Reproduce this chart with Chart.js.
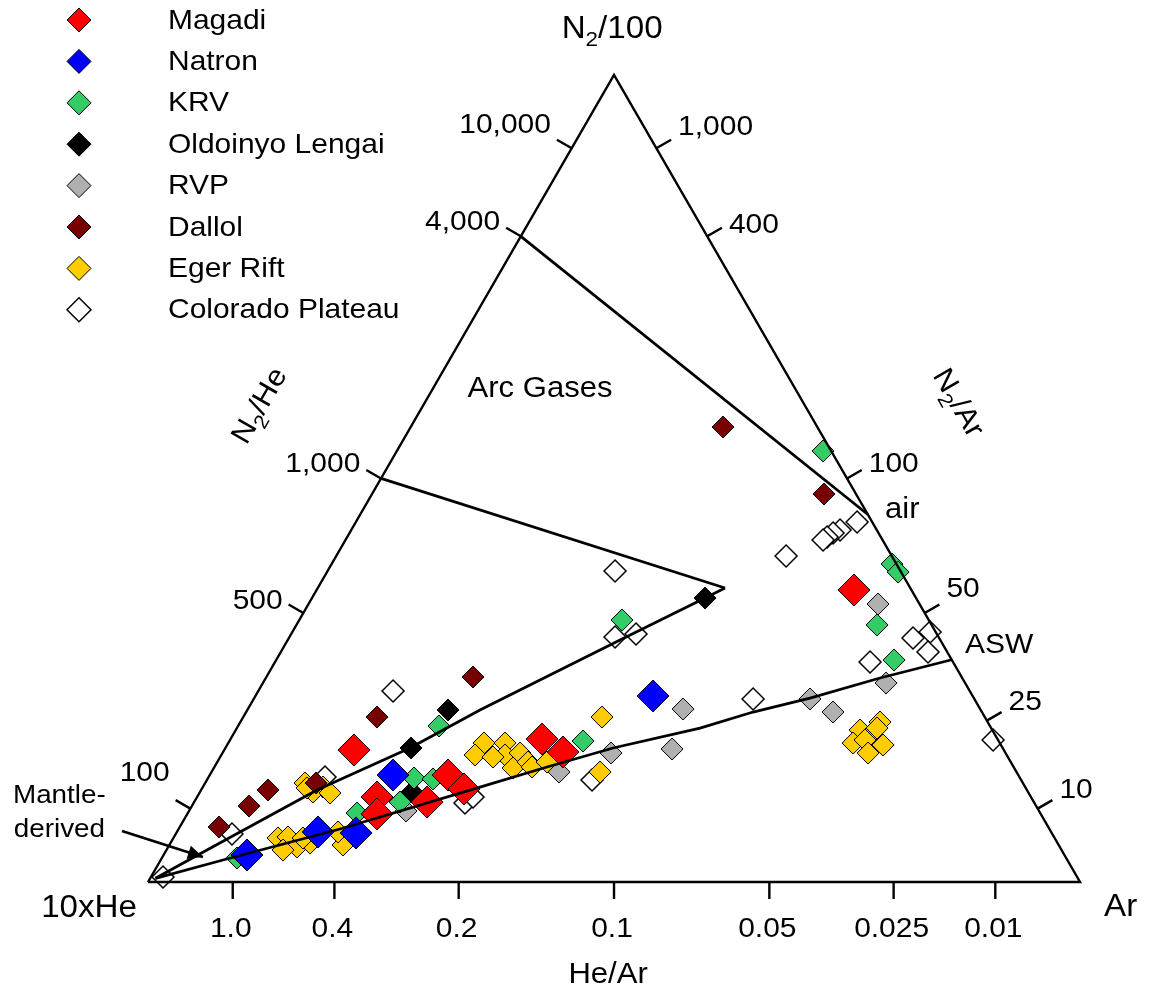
<!DOCTYPE html>
<html>
<head>
<meta charset="utf-8">
<script src="https://cdn.jsdelivr.net/npm/chart.js@4.4.0/dist/chart.umd.min.js"></script>
<style>
  html, body { margin: 0; padding: 0; background: #fff; }
  canvas { display: block; }
</style>
</head>
<body>
<canvas id="ternary" width="1149" height="989"></canvas>
<script>
// triangle coordinates: base runs 0..100 (10xHe -> Ar), apex N2/100 at (50, H)
const H = 50 * Math.sqrt(3);

const seriesNames = ['Magadi', 'Natron', 'KRV', 'Oldoinyo Lengai', 'RVP', 'Dallol', 'Eger Rift', 'Colorado Plateau'];
const seriesColors = ['#ff0000', '#0000ff', '#33cc66', '#000000', '#b0b0b0', '#780000', '#ffcc00', '#ffffff'];

const magadi = [[75.75,31.33],[22.10,14.16],[42.28,15.34],[44.53,13.95],[32.19,11.48],[33.91,9.98],[29.94,8.58],[24.57,9.12],[24.57,7.30]];
const natron = [[54.19,19.96],[26.29,11.48],[22.32,5.26],[18.24,5.37],[10.62,2.90]];
const krv = [[72.43,46.25],[79.83,34.12],[80.48,33.26],[78.22,27.58],[80.05,23.82],[50.86,28.11],[46.68,15.13],[31.22,16.74],[28.54,11.16],[30.58,11.05],[27.04,8.58],[22.43,7.40],[9.55,2.58]];
const oldoinyoLengai = [[59.77,30.47],[32.19,18.46],[28.22,14.38],[28.33,9.66]];
const rvp = [[78.33,29.83],[79.19,21.35],[71.03,19.64],[73.50,18.24],[57.41,18.56],[56.23,14.27],[49.68,13.84],[44.10,11.80],[27.68,7.62]];
const dallol = [[61.70,48.82],[72.53,41.63],[34.87,22.00],[24.57,17.70],[12.88,9.87],[10.84,8.15],[7.62,5.90],[18.03,10.62]];
const egerRift = [[48.71,17.70],[48.50,11.80],[36.05,14.91],[35.09,13.63],[38.31,14.91],[38.31,13.63],[37.02,13.41],[39.92,13.84],[39.16,12.23],[40.77,12.88],[41.20,12.34],[42.81,12.88],
  [76.40,16.31],[78.54,17.17],[77.79,16.10],[75.65,14.91],[76.93,15.24],[78.87,14.70],[77.26,13.84],[78.22,16.52],
  [16.85,10.62],[18.78,10.19],[17.70,9.66],[19.53,9.55],[17.06,10.09],
  [13.95,4.72],[15.02,4.83],[15.99,3.76],[14.49,3.43],[17.38,4.18],[16.63,4.72],[20.92,3.97],[20.39,5.37]];
const coloradoPlateau = [[76.08,38.63],[74.25,37.77],[73.50,37.45],[72.86,37.02],[72.43,36.70],[68.46,34.98],[50.11,33.37],[50.11,26.29],[52.36,26.61],[82.08,26.18],[83.91,26.83],[83.69,24.68],[77.47,23.61],[90.67,15.24],[64.92,19.64],[26.29,20.49],[47.64,10.94],[34.01,8.48],[34.87,9.12],[1.61,0.54],[9.01,5.15],[18.99,11.27]];
const seriesData = [magadi, natron, krv, oldoinyoLengai, rvp, dallol, egerRift, coloradoPlateau];
const seriesRadius = [16, 16, 11, 11, 11, 11, 11, 11];

// axis ticks (ratio values) and their labels
const leftTickValues = [10000, 4000, 1000, 500, 100];
const leftTickLabels = ['10,000', '4,000', '1,000', '500', '100'];
const rightTickValues = [1000, 400, 100, 50, 25, 10];
const rightTickLabels = ['1,000', '400', '100', '50', '25', '10'];
const bottomTickValues = [1.0, 0.4, 0.2, 0.1, 0.05, 0.025, 0.01];
const bottomTickLabels = ['1.0', '0.4', '0.2', '0.1', '0.05', '0.025', '0.01'];

const AIR_N2AR = 83.6;
const ASW_N2AR = 38;

// position on each edge from the ratio it shows
function leftEdge(v) { const t = v / (v + 1000); return [50 * t, H * t]; }   // N2/He
function rightEdge(v) { const t = v / (v + 100); return [100 - 50 * t, H * t]; } // N2/Ar
function bottomEdge(v) { const f = 1 / (1 + 10 * v); return [100 * f, 0]; }     // He/Ar

const arcVertex = [61.91, 31.55];
const triangle = [[0, 0], [100, 0], [50, H], [0, 0]];
const airLine = [leftEdge(4000), rightEdge(AIR_N2AR)];
const arcLine = [leftEdge(1000), arcVertex];
const mantleArcLine = [arcVertex, [59.77,30.47], [50.65,25.97], [46.35,23.82], [35.62,18.46], [28.11,14.38], [18.13,9.87], [6.33,3.43], [0.8,0.4]];
const mantleAswLine = [[0.8,0.4], [8.05,2.36], [20.60,5.69], [35.62,10.19], [42.81,12.34], [49.90,14.38], [59.23,16.52], [64.92,18.24], [71.03,19.74], [78.54,21.89], rightEdge(ASW_N2AR)];
const mantleArrow = [[-2.79, 5.47], [5.90, 2.68]];

const FONT = 'Arial, "Liberation Sans", sans-serif';
const STRETCH = 1.07;

function text(ctx, s, x, y, size, align, rot) {
  ctx.save();
  ctx.translate(x, y);
  if (rot) ctx.rotate(rot);
  ctx.scale(STRETCH, 1);
  ctx.font = size + 'px ' + FONT;
  ctx.textAlign = align || 'center';
  ctx.textBaseline = 'alphabetic';
  ctx.fillStyle = '#000';
  ctx.fillText(s, 0, 0);
  ctx.restore();
}

// "N" + subscript 2 + rest, centred on (x, y)
function textN2(ctx, rest, x, y, size, rot) {
  ctx.save();
  ctx.translate(x, y);
  if (rot) ctx.rotate(rot);
  ctx.scale(STRETCH, 1);
  const big = size + 'px ' + FONT, small = Math.round(size * 0.68) + 'px ' + FONT;
  ctx.font = big;
  const wN = ctx.measureText('N').width, wR = ctx.measureText(rest).width;
  ctx.font = small;
  const w2 = ctx.measureText('2').width;
  let cx = -(wN + w2 + wR) / 2;
  const base = size * 0.36;
  ctx.textAlign = 'left';
  ctx.textBaseline = 'alphabetic';
  ctx.fillStyle = '#000';
  ctx.font = big; ctx.fillText('N', cx, base); cx += wN;
  ctx.font = small; ctx.fillText('2', cx, base + size * 0.27); cx += w2;
  ctx.font = big; ctx.fillText(rest, cx, base);
  ctx.restore();
}

function diamond(ctx, x, y, r, fill) {
  ctx.beginPath();
  ctx.moveTo(x - r, y); ctx.lineTo(x, y - r); ctx.lineTo(x + r, y); ctx.lineTo(x, y + r);
  ctx.closePath();
  ctx.fillStyle = fill; ctx.fill();
  ctx.lineWidth = fill === '#ffffff' ? 1.5 : 1;
  ctx.strokeStyle = '#000'; ctx.stroke();
}

const decorations = {
  id: 'decorations',
  afterDatasetsDraw(chart) {
    const ctx = chart.ctx;
    const sx = chart.scales.x, sy = chart.scales.y;
    const P = (p) => [sx.getPixelForValue(p[0]), sy.getPixelForValue(p[1])];
    const unit = (a, b) => { const dx = b[0] - a[0], dy = b[1] - a[1], l = Math.hypot(dx, dy); return [dx / l, dy / l]; };

    const A = P([0, 0]), B = P([100, 0]), C = P([50, H]);
    const dl = unit(A, C), dr = unit(B, C);
    const nl = [dl[1], -dl[0]], nr = [-dr[1], dr[0]];
    const TICK = 17;

    ctx.save();
    ctx.strokeStyle = '#000';
    ctx.lineWidth = 2.4;
    ctx.lineCap = 'butt';

    const leftDy = [-7, 2, 2, 5, -19];
    leftTickValues.forEach((v, i) => {
      const p = P(leftEdge(v)), e = [p[0] + nl[0] * TICK, p[1] + nl[1] * TICK];
      ctx.beginPath(); ctx.moveTo(p[0], p[1]); ctx.lineTo(e[0], e[1]); ctx.stroke();
      text(ctx, leftTickLabels[i], e[0] - 6, e[1] + leftDy[i], 28, 'right');
    });
    const rightDy = [-5, 5, 2, -7, -2, -2];
    rightTickValues.forEach((v, i) => {
      const p = P(rightEdge(v)), e = [p[0] + nr[0] * TICK, p[1] + nr[1] * TICK];
      ctx.beginPath(); ctx.moveTo(p[0], p[1]); ctx.lineTo(e[0], e[1]); ctx.stroke();
      text(ctx, rightTickLabels[i], e[0] + 7, e[1] + rightDy[i], 28, 'left');
    });
    bottomTickValues.forEach((v, i) => {
      const p = P(bottomEdge(v));
      ctx.beginPath(); ctx.moveTo(p[0], p[1]); ctx.lineTo(p[0], p[1] + 17); ctx.stroke();
      const lp = P([bottomEdge(v)[0], -5.9]);
      text(ctx, bottomTickLabels[i], lp[0] - 2, lp[1], 28, 'center');
    });

    // arrow head for "Mantle-derived"
    const s = P(mantleArrow[0]), t = P(mantleArrow[1]);
    const u = unit(s, t), n = [-u[1], u[0]];
    const b = [t[0] - u[0] * 15, t[1] - u[1] * 15];
    ctx.beginPath();
    ctx.moveTo(t[0], t[1]);
    ctx.lineTo(b[0] + n[0] * 7, b[1] + n[1] * 7);
    ctx.lineTo(b[0] - n[0] * 7, b[1] - n[1] * 7);
    ctx.closePath();
    ctx.fillStyle = '#000'; ctx.fill();

    // labels
    let q;
    q = P([49.8, 91.8]); textN2(ctx, '/100', q[0], q[1], 31, 0);
    q = P([11.8, 51.2]); textN2(ctx, '/He', q[0], q[1], 29, -Math.PI / 3);
    q = P([87.1, 51.5]); textN2(ctx, '/Ar', q[0], q[1], 29, Math.PI / 3);
    q = P([42.06, 52.04]); text(ctx, 'Arc Gases', q[0], q[1], 29, 'center');
    q = P([79.08, 39.06]); text(ctx, 'air', q[0], q[1], 29, 'left');
    q = P([87.66, 24.57]); text(ctx, 'ASW', q[0], q[1], 28, 'left');
    q = P([-1.18, -3.76]); text(ctx, '10xHe', q[0], q[1], 31, 'right');
    q = P([102.58, -3.65]); text(ctx, 'Ar', q[0], q[1], 31, 'left');
    q = P([49.36, -10.84]); text(ctx, 'He/Ar', q[0], q[1], 29, 'center');
    q = P([-14.49, 8.48]); text(ctx, 'Mantle-', q[0], q[1], 26, 'left');
    q = P([-14.4, 4.83]); text(ctx, 'derived', q[0], q[1], 26, 'left');

    // legend
    seriesNames.forEach((name, i) => {
      const y = 20 + 41.4 * i;
      diamond(ctx, 79, y, 12, seriesColors[i]);
      text(ctx, name, 168, y + 8.5, 28, 'left');
    });
    ctx.restore();
  }
};

const toPts = (arr) => arr.map(([x, y]) => ({ x, y }));
const lineSet = (arr, width) => ({
  data: toPts(arr), showLine: true, borderColor: '#000', borderWidth: width,
  pointRadius: 0, tension: 0, fill: false, order: -1
});

const markerSets = seriesNames.map((name, i) => ({
  label: name,
  data: toPts(seriesData[i]),
  backgroundColor: seriesColors[i],
  borderColor: '#000',
  borderWidth: i === 7 ? 1.5 : 1,
  pointStyle: 'rectRot',
  pointRadius: seriesRadius[i],
  showLine: false
}));

new Chart(document.getElementById('ternary'), {
  type: 'scatter',
  data: {
    datasets: [
      lineSet(triangle, 2.4),
      lineSet(airLine, 2.8),
      lineSet(arcLine, 2.8),
      lineSet(mantleArcLine, 2.8),
      lineSet(mantleAswLine, 2.8),
      lineSet(mantleArrow, 2.8),
      ...markerSets
    ]
  },
  options: {
    responsive: false,
    animation: false,
    events: [],
    layout: { padding: 0, autoPadding: false },
    plugins: { legend: { display: false }, tooltip: { enabled: false } },
    scales: {
      x: { type: 'linear', min: -15.88, max: 107.40, display: false },
      y: { type: 'linear', min: -11.48, max: 94.64, display: false }
    }
  },
  plugins: [decorations]
});
</script>
</body>
</html>
